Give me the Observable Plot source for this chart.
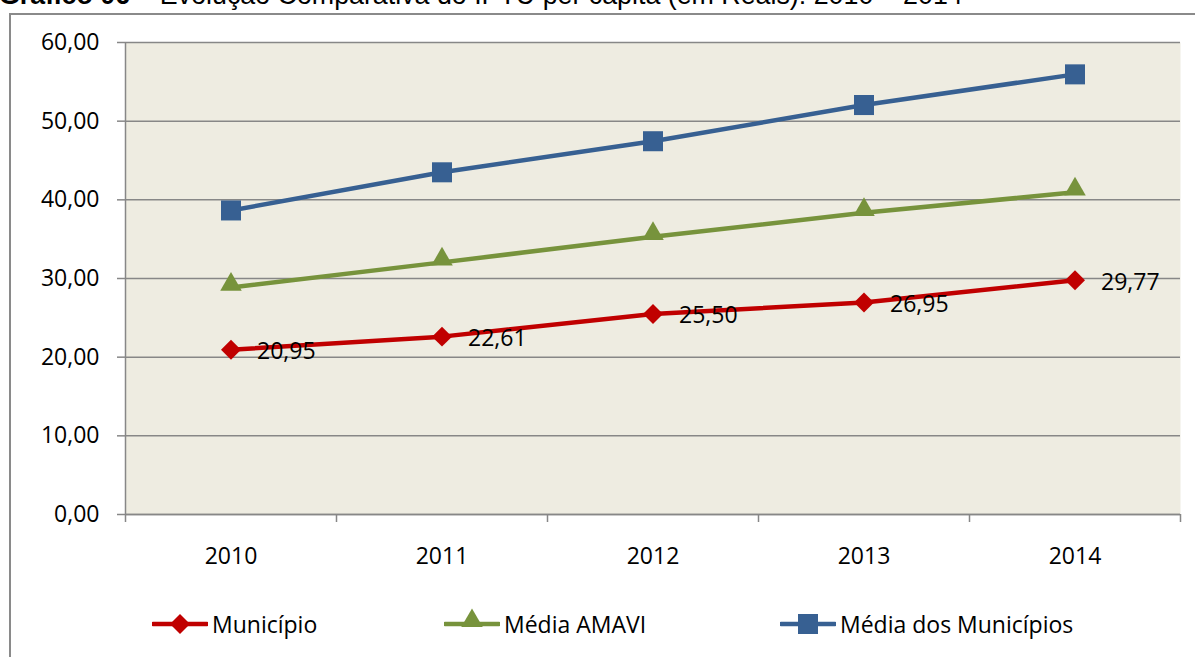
<!DOCTYPE html>
<html><head><meta charset="utf-8">
<script src="https://cdn.jsdelivr.net/npm/d3@7"></script>
<script src="https://cdn.jsdelivr.net/npm/@observablehq/plot@0.6"></script>
<style>
html,body{margin:0;padding:0;background:#fff;}
body{width:1195px;height:657px;overflow:hidden;position:relative;font-family:"Open Sans",sans-serif;}
#title{position:absolute;left:-1px;top:-18px;font-family:"Liberation Sans",Arial,sans-serif;font-size:26.8px;line-height:26.8px;white-space:nowrap;color:#000;}
#frame{position:absolute;left:9px;top:13px;width:1300px;height:800px;border:2px solid #8a8a8a;box-sizing:border-box;z-index:3;pointer-events:none;}
#chart{position:absolute;left:0;top:0;z-index:1;}
#legend{position:absolute;left:0;top:606px;width:1195px;height:36px;z-index:2;}
.item{position:absolute;top:0;height:36px;display:flex;align-items:center;font-size:23px;color:#000;white-space:nowrap;}
.item svg{margin-right:4px;}
</style></head><body>
<div id="title"><b>Gráfico 06</b> – Evolução Comparativa do IPTU per capita (em Reais): 2010 – 2014</div>
<div id="frame"></div>
<div id="chart"></div>
<div id="legend"></div>
<script>
const years = [2010, 2011, 2012, 2013, 2014];
const municipio = [20.95, 22.61, 25.50, 26.95, 29.77];
const mediaAmavi = [28.85, 32.05, 35.30, 38.35, 40.95];
const mediaMunicipios = [38.65, 43.50, 47.45, 52.05, 55.95];
const seriesNames = ["Município", "Média AMAVI", "Média dos Municípios"];
const seriesColors = ["#C00000", "#77933C", "#376092"];
const seriesSymbols = ["diamond2", "triangle", "square"];
const yTicks = [0, 10, 20, 30, 40, 50, 60];
const xBounds = [2009.5, 2010.5, 2011.5, 2012.5, 2013.5, 2014.5];

const seriesValues = [municipio, mediaAmavi, mediaMunicipios];
const rows = seriesNames.flatMap((s, i) => years.map((yr, j) => ({series: s, year: yr, value: seriesValues[i][j]})));
const bySeries = s => rows.filter(d => d.series === s);
const fmt = v => v.toFixed(2).replace(".", ",");
const grey = "#878787";
const symR = {"Município": 9.0, "Média AMAVI": 8.0, "Média dos Municípios": 11.3};
const symDy = {"Município": 0, "Média AMAVI": -3.1, "Média dos Municípios": 0};

const chart = Plot.plot({
  width: 1195, height: 580,
  marginLeft: 125, marginRight: 15, marginTop: 42, marginBottom: 66,
  x: {domain: [2009.5, 2014.5]},
  y: {domain: [0, 60]},
  color: {domain: seriesNames, range: seriesColors},
  style: {fontFamily: "Open Sans", fontSize: "23px", color: "#000", background: "transparent"},
  marks: [
    Plot.frame({fill: "#EEECE1", stroke: null}),
    Plot.gridY(yTicks, {stroke: grey, strokeOpacity: 1, strokeWidth: 1.5}),
    Plot.ruleX([2009.5], {stroke: grey, strokeWidth: 1.5}),
    Plot.ruleY([0], {stroke: grey, strokeWidth: 1.5}),
    Plot.axisY(yTicks, {tickSize: 8, tickPadding: 18, tickFormat: fmt, stroke: grey, strokeWidth: 1.5, fill: "#000", fontSize: 23, label: null}),
    Plot.axisX(xBounds, {tickSize: 8, tickFormat: () => "", stroke: grey, strokeWidth: 1.5, label: null}),
    Plot.axisX(years, {tickSize: 0, tickPadding: 33, tickFormat: d => String(d), fill: "#000", fontSize: 23, label: null}),
    ...seriesNames.map(s => Plot.line(bySeries(s), {x: "year", y: "value", stroke: "series", strokeWidth: 4.5, strokeLinejoin: "round"})),
    ...seriesNames.map((s, i) => Plot.dot(bySeries(s), {x: "year", y: "value", symbol: seriesSymbols[i], r: symR[s], fill: "series", stroke: "none", dy: symDy[s]})),
    Plot.text(bySeries("Município"), {x: "year", y: "value", text: d => fmt(d.value), dx: 26, dy: 2, textAnchor: "start", fontSize: 23, fill: "#000"})
  ]
});
document.getElementById("chart").appendChild(chart);

// legend
const legendX = [152, 444, 780];
const legend = document.getElementById("legend");
seriesNames.forEach((s, i) => {
  const item = document.createElement("div");
  item.className = "item";
  item.style.left = legendX[i] + "px";
  const ns = "http://www.w3.org/2000/svg";
  const svg = document.createElementNS(ns, "svg");
  svg.setAttribute("width", 56); svg.setAttribute("height", 36);
  const ln = document.createElementNS(ns, "line");
  ln.setAttribute("x1", 1); ln.setAttribute("x2", 55); ln.setAttribute("y1", 18); ln.setAttribute("y2", 18);
  ln.setAttribute("stroke", seriesColors[i]); ln.setAttribute("stroke-width", 4.5); ln.setAttribute("stroke-linecap", "round");
  svg.appendChild(ln);
  const symMap = {diamond2: d3.symbolDiamond2, triangle: d3.symbolTriangle, square: d3.symbolSquare};
  const p = document.createElementNS(ns, "path");
  p.setAttribute("d", d3.symbol(symMap[seriesSymbols[i]], Math.PI * symR[s] * symR[s])());
  p.setAttribute("transform", `translate(28,${18 + symDy[s]})`);
  p.setAttribute("fill", seriesColors[i]);
  svg.appendChild(p);
  item.appendChild(svg);
  const t = document.createElement("span");
  t.textContent = s;
  item.appendChild(t);
  legend.appendChild(item);
});
</script>
</body></html>
